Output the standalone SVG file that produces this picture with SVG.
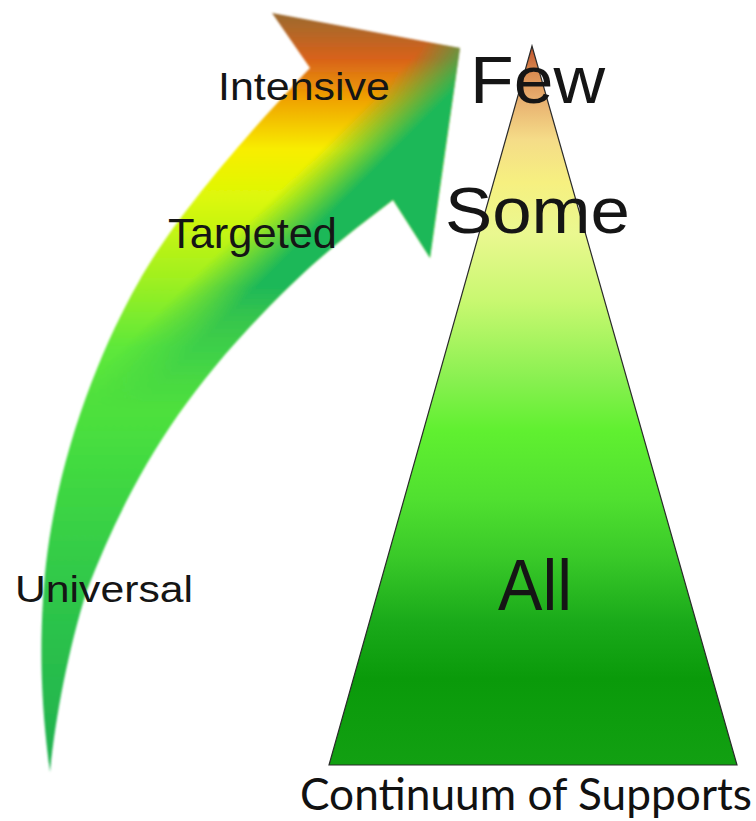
<svg xmlns="http://www.w3.org/2000/svg" width="756" height="821" viewBox="0 0 756 821">
<style>
.lbl{font-family:"Liberation Sans",Arial,sans-serif;fill:#151515}
.cap{font-family:Lato,"Open Sans",sans-serif;fill:#111}
</style>
<defs>
<linearGradient id="arrowBase" gradientUnits="userSpaceOnUse" x1="0" y1="13" x2="0" y2="772">
<stop offset="0" stop-color="#9a6a30"/>
<stop offset="0.06" stop-color="#d8621a"/>
<stop offset="0.115" stop-color="#f0a400"/>
<stop offset="0.18" stop-color="#f8ee00"/>
<stop offset="0.245" stop-color="#dcf808"/>
<stop offset="0.35" stop-color="#a0f020"/>
<stop offset="0.44" stop-color="#5ee83a"/>
<stop offset="0.58" stop-color="#44dc40"/>
<stop offset="0.77" stop-color="#2ec64a"/>
<stop offset="1" stop-color="#20b050"/>
</linearGradient>
<linearGradient id="arrowSide" gradientUnits="userSpaceOnUse" x1="235" y1="235" x2="272" y2="272">
<stop offset="0" stop-color="#1eb858" stop-opacity="0"/>
<stop offset="1" stop-color="#1eb858" stop-opacity="1"/>
</linearGradient>
<linearGradient id="fadeDown" gradientUnits="userSpaceOnUse" x1="0" y1="0" x2="0" y2="821">
<stop offset="0" stop-color="#fff"/>
<stop offset="0.35" stop-color="#fff"/>
<stop offset="0.5" stop-color="#000"/>
<stop offset="1" stop-color="#000"/>
</linearGradient>
<mask id="sideMask" maskUnits="userSpaceOnUse" x="0" y="0" width="756" height="821">
<rect x="0" y="0" width="756" height="821" fill="url(#fadeDown)"/>
</mask>
<linearGradient id="triGrad" gradientUnits="userSpaceOnUse" x1="0" y1="46" x2="0" y2="765">
<stop offset="0" stop-color="#c0502a"/>
<stop offset="0.035" stop-color="#d88a50"/>
<stop offset="0.075" stop-color="#e8b070"/>
<stop offset="0.13" stop-color="#f5dc88"/>
<stop offset="0.19" stop-color="#f6f080"/>
<stop offset="0.26" stop-color="#eaf890"/>
<stop offset="0.355" stop-color="#c8f870"/>
<stop offset="0.465" stop-color="#88f050"/>
<stop offset="0.535" stop-color="#60f030"/>
<stop offset="0.63" stop-color="#50e030"/>
<stop offset="0.715" stop-color="#38c828"/>
<stop offset="0.8" stop-color="#1aaa1a"/>
<stop offset="0.88" stop-color="#0a9a0a"/>
<stop offset="1" stop-color="#12a012"/>
</linearGradient>
<filter id="soft" x="-5%" y="-5%" width="110%" height="110%">
<feGaussianBlur stdDeviation="1.1"/>
</filter>
<path id="arrowShape" d="M 50,772 C 46,740 38,680 43,600 C 50,470 100,350 138,283 C 175,215 260,120 310,68 L 272,13 L 460,48 L 430,258 L 393,200 C 360,225 325,252 293,283 C 183,389 131,478 87,590 C 68,650 55,720 50,772 Z"/>
</defs>

<g id="arrow" filter="url(#soft)">
<use href="#arrowShape" fill="url(#arrowBase)"/>
<use href="#arrowShape" fill="url(#arrowSide)" mask="url(#sideMask)"/>
</g>

<g id="pyramid">
<polygon points="532,46 329,765 737,765" fill="url(#triGrad)" stroke="#2a2a2a" stroke-width="1.2" stroke-linejoin="miter"/>
</g>

<g id="label-intensive"><text class="lbl" x="218" y="100" font-size="39" textLength="172" lengthAdjust="spacingAndGlyphs">Intensive</text></g>
<g id="label-targeted"><text class="lbl" x="168" y="248" font-size="42" textLength="169" lengthAdjust="spacingAndGlyphs">Targeted</text></g>
<g id="label-universal"><text class="lbl" x="15" y="602" font-size="37" textLength="178" lengthAdjust="spacingAndGlyphs">Universal</text></g>
<g id="label-few"><text class="lbl" x="470" y="103" font-size="67" textLength="135" lengthAdjust="spacingAndGlyphs">Few</text></g>
<g id="label-some"><text class="lbl" x="445" y="233" font-size="64" textLength="185" lengthAdjust="spacingAndGlyphs">Some</text></g>
<g id="label-all"><text class="lbl" x="498" y="610" font-size="72" textLength="74" lengthAdjust="spacingAndGlyphs">All</text></g>
<g id="caption"><text class="cap" x="300" y="810" font-size="44" textLength="452" lengthAdjust="spacingAndGlyphs">Continuum of Supports</text></g>
</svg>
